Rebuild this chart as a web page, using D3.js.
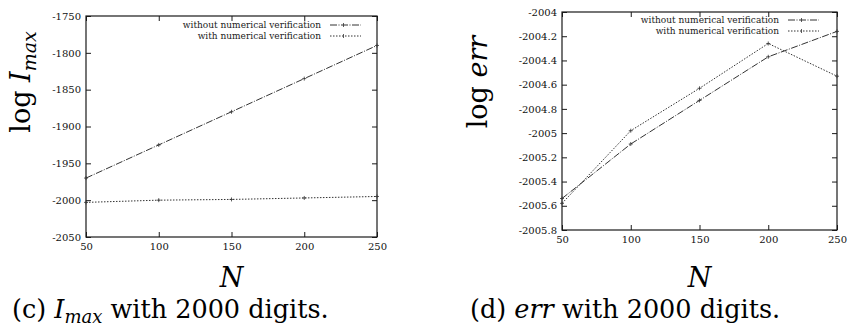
<!DOCTYPE html>
<html>
<head>
<meta charset="utf-8">
<script src="https://cdn.jsdelivr.net/npm/d3@7"></script>
<style>
  body { margin: 0; background: #fff; }
  svg { display: block; }
  .tick text { font-family: "DejaVu Serif", serif; font-size: 10px; fill: #111; }
</style>
</head>
<body>
<div id="chart"></div>
<script>
// data
const nValues = [50, 100, 150, 200, 250];
const seriesNames = ['without numerical verification', 'with numerical verification'];

// (c) log Imax
const imaxWithout = [-1970, -1925, -1880, -1835, -1790];
const imaxWith = [-2003, -2000, -1999, -1997, -1995];
const imaxTicks = [-1750, -1800, -1850, -1900, -1950, -2000, -2050];

// (d) log err
const errWithout = [-2005.54, -2005.09, -2004.73, -2004.37, -2004.16];
const errWith = [-2005.58, -2004.98, -2004.63, -2004.26, -2004.53];
const errTicks = [-2004, -2004.2, -2004.4, -2004.6, -2004.8, -2005, -2005.2, -2005.4, -2005.6, -2005.8];

const xTicks = [50, 100, 150, 200, 250];

const W = 850, H = 334;
const roman = '"DejaVu Serif", serif';

const svg = d3.select('#chart').append('svg')
    .attr('width', W)
    .attr('height', H);

const ink = '#1a1a1a';
const plain = d => String(d);

function drawPanel(opts) {
    const x = d3.scaleLinear().domain([50, 250]).range([opts.left, opts.right]);
    const y = d3.scaleLinear().domain(opts.yDomain).range([opts.bottom, opts.top]);
    const g = svg.append('g');

    // axes with inward ticks, mirrored on top and right
    g.append('g')
        .attr('transform', `translate(${opts.left},0)`)
        .call(d3.axisLeft(y).tickValues(opts.yTicks).tickSize(-5).tickPadding(5).tickFormat(plain))
        .call(a => a.select('.domain').remove());
    g.append('g')
        .attr('transform', `translate(${opts.right},0)`)
        .call(d3.axisRight(y).tickValues(opts.yTicks).tickSize(-5).tickFormat(''))
        .call(a => a.select('.domain').remove());
    g.append('g')
        .attr('transform', `translate(0,${opts.bottom})`)
        .call(d3.axisBottom(x).tickValues(xTicks).tickSize(-5).tickPadding(6).tickFormat(plain))
        .call(a => a.select('.domain').remove());
    g.append('g')
        .attr('transform', `translate(0,${opts.top})`)
        .call(d3.axisTop(x).tickValues(xTicks).tickSize(-5).tickFormat(''))
        .call(a => a.select('.domain').remove());
    g.selectAll('.tick line').attr('stroke', ink);

    // frame
    g.append('rect')
        .attr('x', opts.left).attr('y', opts.top)
        .attr('width', opts.right - opts.left)
        .attr('height', opts.bottom - opts.top)
        .attr('fill', 'none')
        .attr('stroke', ink)
        .attr('stroke-width', 1.2);

    // series
    const line = d3.line().x((d, i) => x(nValues[i])).y(d => y(d));
    const styles = [
        { dash: '7,1.5,1,1.5', width: 1 },
        { dash: '1.5,1.5', width: 1 }
    ];
    opts.series.forEach((s, k) => {
        g.append('path')
            .datum(s)
            .attr('d', line)
            .attr('fill', 'none')
            .attr('stroke', '#333')
            .attr('stroke-width', styles[k].width)
            .attr('stroke-dasharray', styles[k].dash);
        g.selectAll(null)
            .data(s)
            .enter().append('path')
            .attr('d', (d, i) => {
                const px = x(nValues[i]), py = y(d);
                return `M${px - 2},${py}H${px + 2}M${px},${py - 2}V${py + 2}`;
            })
            .attr('stroke', '#333')
            .attr('stroke-width', 0.8);
    });

    // legend
    seriesNames.forEach((name, k) => {
        const ly = opts.legendY + k * 11;
        g.append('text')
            .attr('x', opts.legendX)
            .attr('y', ly)
            .attr('dy', '0.32em')
            .attr('text-anchor', 'end')
            .style('font-family', roman)
            .style('font-size', '9px')
            .attr('fill', ink)
            .text(name);
        g.append('line')
            .attr('x1', opts.legendX + 9).attr('x2', opts.legendX + 40)
            .attr('y1', ly).attr('y2', ly)
            .attr('stroke', '#333')
            .attr('stroke-dasharray', styles[k].dash);
        g.append('path')
            .attr('d', `M${opts.legendX + 22.5},${ly - 2}V${ly + 2}`)
            .attr('stroke', '#333').attr('stroke-width', 0.8);
    });

    // y title: "log" + italic name with optional subscript
    const yt = g.append('text')
        .attr('transform', `translate(${opts.yTitleX},${opts.yTitleY}) rotate(-90)`)
        .attr('text-anchor', 'middle')
        .style('font-family', roman)
        .style('font-size', '27px')
        .attr('fill', '#000');
    yt.append('tspan').text('log ');
    yt.append('tspan').style('font-style', 'italic').text(opts.yName);
    if (opts.ySub) {
        yt.append('tspan').style('font-style', 'italic').style('font-size', '19px')
            .attr('dy', 6).text(opts.ySub);
    }

    // x title
    g.append('text')
        .attr('x', (opts.left + opts.right) / 2)
        .attr('y', 287)
        .attr('text-anchor', 'middle')
        .style('font-family', roman)
        .style('font-style', 'italic')
        .style('font-size', '27px')
        .attr('fill', '#000')
        .text('N');

    // caption
    const cap = g.append('text')
        .attr('x', opts.capX)
        .attr('y', 318)
        .style('font-family', roman)
        .style('font-size', '25.5px')
        .attr('fill', '#000');
    cap.append('tspan').text(`(${opts.letter}) `);
    cap.append('tspan').style('font-style', 'italic').text(opts.yName);
    if (opts.ySub) {
        cap.append('tspan').style('font-style', 'italic').style('font-size', '18px')
            .attr('dy', 5).text(opts.ySub);
        cap.append('tspan').attr('dy', -5).text(' with 2000 digits.');
    } else {
        cap.append('tspan').text(' with 2000 digits.');
    }
}

drawPanel({
    left: 86, right: 377, top: 16, bottom: 237,
    yDomain: [-2050, -1750], yTicks: imaxTicks,
    series: [imaxWithout, imaxWith],
    legendX: 321, legendY: 25,
    yName: 'I', ySub: 'max', yTitleX: 30, yTitleY: 82,
    letter: 'c', capX: 12
});

drawPanel({
    left: 562, right: 837, top: 12, bottom: 230,
    yDomain: [-2005.8, -2004], yTicks: errTicks,
    series: [errWithout, errWith],
    legendX: 779, legendY: 20,
    yName: 'err', ySub: null, yTitleX: 487, yTitleY: 82,
    letter: 'd', capX: 470
});
</script>
</body>
</html>
